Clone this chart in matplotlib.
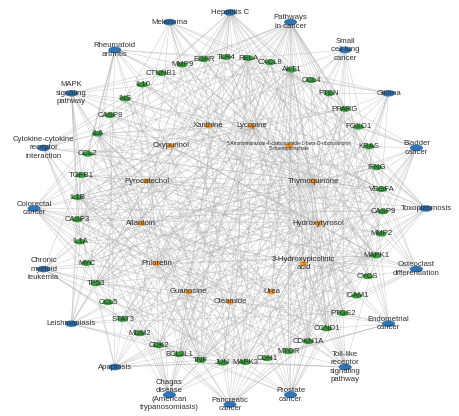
import matplotlib
matplotlib.use("Agg")
import matplotlib.pyplot as plt
import numpy as np
from matplotlib.collections import LineCollection
from matplotlib.patches import Ellipse

# Outer ring: enriched KEGG pathways / diseases, clockwise from the top
pathways = [
    "Hepatitis C", "Pathways\nin cancer", "Small\ncell lung\ncancer", "Glioma",
    "Bladder\ncancer", "Toxoplasmosis", "Osteoclast\ndifferentiation",
    "Endometrial\ncancer", "Toll-like\nreceptor\nsignaling\npathway",
    "Prostate\ncancer", "Pancreatic\ncancer",
    "Chagas\ndisease\n(American\ntrypanosomiasis)", "Apoptosis",
    "Leishmaniasis", "Chronic\nmyeloid\nleukemia", "Colorectal\ncancer",
    "Cytokine-cytokine\nreceptor\ninteraction", "MAPK\nsignaling\npathway",
    "Rheumatoid\narthritis", "Melanoma",
]

# Middle ring: target genes, clockwise
genes = [
    "TLR4", "RELA", "CXCL8", "AKT1", "CCL4", "PTEN", "PPARG", "FOXO1", "KRAS",
    "IFNG", "VEGFA", "CASP9", "MMP2", "MAPK1", "CYCS", "ICAM1", "PTGS2",
    "CCND1", "CDKN1A", "MTOR", "CDH1", "MAPK3", "JUN", "TNF", "BCL2L1",
    "CDK2", "MDM2", "STAT3", "CCL5", "TP53", "MYC", "IL1A", "CASP3", "IL1B",
    "TGFB1", "CCL2", "IL6", "CASP8", "INS", "IL10", "CTNNB1", "MMP9", "EGFR",
]

# Inner ring: compounds, clockwise
compounds = [
    "Lycopine",
    "5-Aminoimidazole-4-carboxamide-1-beta-D-ribofuranosyl\n5'-monophosphate",
    "Thymoquinone", "Hydroxytyrosol", "3-Hydroxypicolinic\nacid", "Urea",
    "Oleamide", "Guanosine", "Phloretin", "Allantoin", "Pyrocatechol",
    "Oxypurinol", "Xanthine",
]
AICAR = compounds[1]

pathway_genes = {
    "Hepatitis C": ["EGFR", "TLR4", "RELA", "CXCL8", "AKT1", "PPARG", "KRAS", "CASP9",
                    "MAPK1", "CYCS", "CCND1", "CDKN1A", "MAPK3", "TNF", "BCL2L1", "CDK2",
                    "STAT3", "CCL5", "TP53", "MYC", "CASP3", "CASP8", "CTNNB1"],
    "Pathways\nin cancer": ["EGFR", "RELA", "CXCL8", "AKT1", "PTEN", "PPARG", "FOXO1", "KRAS",
                            "IFNG", "VEGFA", "CASP9", "MMP2", "MAPK1", "CYCS", "PTGS2", "CCND1",
                            "CDKN1A", "MTOR", "CDH1", "MAPK3", "JUN", "BCL2L1", "CDK2", "MDM2",
                            "STAT3", "TP53", "MYC", "CASP3", "TGFB1", "IL6", "CASP8", "CTNNB1",
                            "MMP9"],
    "Small\ncell lung\ncancer": ["RELA", "AKT1", "PTEN", "CASP9", "CYCS", "CCND1", "CDK2",
                                 "BCL2L1", "PTGS2", "TP53", "MYC", "CDKN1A"],
    "Glioma": ["EGFR", "AKT1", "PTEN", "KRAS", "MAPK1", "MAPK3", "CCND1", "CDKN1A", "MTOR",
               "MDM2", "TP53", "PPARG", "CCL4"],
    "Bladder\ncancer": ["EGFR", "CXCL8", "KRAS", "VEGFA", "MMP2", "MAPK1", "CCND1", "CDKN1A",
                        "MAPK3", "CDH1", "MDM2", "TP53", "MYC", "MMP9", "FOXO1"],
    "Toxoplasmosis": ["TLR4", "RELA", "AKT1", "IFNG", "CASP9", "MAPK1", "CYCS", "MAPK3", "TNF",
                      "BCL2L1", "STAT3", "CASP3", "TGFB1", "IL10", "CASP8", "VEGFA", "KRAS"],
    "Osteoclast\ndifferentiation": ["RELA", "AKT1", "PPARG", "IFNG", "MAPK1", "MAPK3", "JUN",
                                    "TNF", "IL1A", "IL1B", "TGFB1", "MMP2", "CYCS"],
    "Endometrial\ncancer": ["AKT1", "PTEN", "KRAS", "MAPK1", "CCND1", "MTOR", "CDH1", "MAPK3",
                            "TP53", "MYC", "CTNNB1", "ICAM1", "PTGS2"],
    "Toll-like\nreceptor\nsignaling\npathway": ["TLR4", "RELA", "CXCL8", "AKT1", "CCL4", "MAPK1",
                                                "MAPK3", "JUN", "TNF", "CCL5", "IL1B", "IL6",
                                                "CASP8", "CCND1", "CDKN1A", "PTGS2"],
    "Prostate\ncancer": ["EGFR", "RELA", "AKT1", "PTEN", "FOXO1", "KRAS", "CASP9", "MAPK1",
                         "CCND1", "CDKN1A", "MTOR", "MAPK3", "CDK2", "MDM2", "TP53", "INS",
                         "CTNNB1", "CDH1"],
    "Pancreatic\ncancer": ["EGFR", "RELA", "AKT1", "KRAS", "VEGFA", "MAPK1", "CCND1", "CDKN1A",
                           "MTOR", "MAPK3", "BCL2L1", "STAT3", "TP53", "TGFB1", "JUN", "TNF"],
    "Chagas\ndisease\n(American\ntrypanosomiasis)": ["TLR4", "RELA", "CXCL8", "AKT1", "IFNG",
                                                      "MAPK1", "MAPK3", "JUN", "TNF", "CCL5",
                                                      "IL1B", "TGFB1", "CCL2", "IL6", "CASP8",
                                                      "IL10", "CDK2", "BCL2L1"],
    "Apoptosis": ["RELA", "AKT1", "CASP9", "CYCS", "MAPK1", "MAPK3", "JUN", "TNF", "BCL2L1",
                  "TP53", "CASP3", "CASP8", "CDK2", "MDM2", "STAT3"],
    "Leishmaniasis": ["TLR4", "RELA", "IFNG", "PTGS2", "MAPK1", "MAPK3", "JUN", "TNF",
                      "IL1A", "IL1B", "TGFB1", "IL10", "CCL5", "STAT3", "TP53", "MYC"],
    "Chronic\nmyeloid\nleukemia": ["RELA", "AKT1", "KRAS", "MAPK1", "CCND1", "CDKN1A", "MAPK3",
                                   "BCL2L1", "MDM2", "TP53", "MYC", "TGFB1", "STAT3", "IL1A"],
    "Colorectal\ncancer": ["AKT1", "KRAS", "CASP9", "MAPK1", "CYCS", "CCND1", "CDKN1A", "MTOR",
                           "MAPK3", "JUN", "BCL2L1", "TP53", "MYC", "CASP3", "TGFB1", "CTNNB1",
                           "IL1B", "CASP8"],
    "Cytokine-cytokine\nreceptor\ninteraction": ["CXCL8", "CCL4", "IFNG", "VEGFA", "TNF", "CCL5",
                                                 "IL1A", "IL1B", "TGFB1", "CCL2", "IL6", "IL10",
                                                 "EGFR", "CASP3"],
    "MAPK\nsignaling\npathway": ["EGFR", "RELA", "AKT1", "KRAS", "VEGFA", "MAPK1", "MAPK3", "JUN",
                                 "TNF", "CASP3", "TGFB1", "IL1A", "IL1B", "TP53", "MYC", "INS",
                                 "IL6", "CASP8"],
    "Rheumatoid\narthritis": ["TLR4", "CXCL8", "IFNG", "VEGFA", "JUN", "TNF", "CCL5", "IL1A",
                              "IL1B", "TGFB1", "CCL2", "IL6", "ICAM1", "IL10", "MMP9", "CTNNB1"],
    "Melanoma": ["EGFR", "AKT1", "PTEN", "KRAS", "MAPK1", "CCND1", "CDKN1A", "MAPK3", "CDH1",
                 "MDM2", "TP53", "MMP9", "MMP2", "INS"],
}

compound_targets = {
    "Thymoquinone": ["EGFR", "TLR4", "RELA", "CXCL8", "AKT1", "PTEN", "PPARG", "FOXO1", "KRAS",
                     "IFNG", "VEGFA", "CASP9", "MMP2", "MAPK1", "CYCS", "ICAM1", "PTGS2", "CCND1",
                     "CDKN1A", "MTOR", "CDH1", "MAPK3", "JUN", "TNF", "BCL2L1", "CDK2", "MDM2",
                     "STAT3", "CCL5", "TP53", "MYC", "IL1A", "CASP3", "IL1B", "TGFB1", "CCL2",
                     "IL6", "CASP8", "INS", "IL10", "CTNNB1", "MMP9", "CCL4"],
    "Hydroxytyrosol": ["EGFR", "RELA", "CXCL8", "AKT1", "PPARG", "FOXO1", "VEGFA", "CASP9",
                       "MMP2", "MAPK1", "ICAM1", "PTGS2", "CCND1", "CDKN1A", "MTOR", "MAPK3",
                       "JUN", "TNF", "BCL2L1", "STAT3", "TP53", "MYC", "CASP3", "IL1B", "IL6",
                       "CASP8", "IL10", "CTNNB1", "MMP9", "CCL2", "TLR4", "IL1A", "TGFB1"],
    "Lycopine": ["EGFR", "TLR4", "RELA", "CXCL8", "AKT1", "PPARG", "VEGFA", "MMP2", "MAPK1",
                 "ICAM1", "PTGS2", "CCND1", "CDKN1A", "MAPK3", "JUN", "TNF", "BCL2L1", "CDK2",
                 "STAT3", "TP53", "IL1B", "TGFB1", "IL6", "IL10", "MMP9", "CASP3", "CASP9",
                 "MYC", "IL1A", "CCL2"],
    "Phloretin": ["AKT1", "PTEN", "VEGFA", "CASP9", "MMP2", "MAPK1", "ICAM1", "PTGS2", "CCND1",
                  "MTOR", "MAPK3", "JUN", "TNF", "STAT3", "TP53", "CASP3", "IL1B", "IL6",
                  "CASP8", "MMP9", "CDK2", "RELA", "CXCL8", "KRAS", "FOXO1"],
    "Pyrocatechol": ["RELA", "AKT1", "CASP9", "MAPK1", "CYCS", "PTGS2", "MAPK3", "TNF",
                     "BCL2L1", "TP53", "CASP3", "IL1B", "IL6", "CCL2", "TGFB1", "MMP2",
                     "VEGFA", "CDKN1A"],
    AICAR: ["AKT1", "PTEN", "PPARG", "FOXO1", "MAPK1", "CDKN1A", "MTOR", "MAPK3", "TNF",
            "TP53", "MYC", "IL6", "INS", "CCND1", "VEGFA", "CASP3", "STAT3", "IL1B"],
    "Allantoin": ["IFNG", "TNF", "IL1B", "IL6", "TGFB1", "INS", "VEGFA", "CCL2", "IL10",
                  "PTGS2", "MMP9", "ICAM1"],
    "Oxypurinol": ["TNF", "IL6", "IL1B", "VEGFA", "INS", "PPARG", "ICAM1", "CCL2", "CASP3",
                   "MAPK1", "MAPK3"],
    "Xanthine": ["TNF", "IL6", "IL1B", "INS", "PPARG", "CASP3", "CCL2", "MMP9", "IL10",
                 "CXCL8", "ICAM1"],
    "3-Hydroxypicolinic\nacid": ["MAPK1", "MAPK3", "CASP3", "TNF", "IL6", "CYCS", "TP53",
                                 "AKT1", "CCND1"],
    "Urea": ["INS", "TNF", "IL6", "IL1B", "TGFB1", "PPARG", "CDKN1A", "MTOR", "VEGFA", "AKT1",
             "MAPK1"],
    "Guanosine": ["AKT1", "MAPK1", "MAPK3", "CASP3", "TNF", "IL6", "IL1B", "TP53", "BCL2L1",
                  "CDK2", "CASP9", "JUN"],
    "Oleamide": ["PPARG", "TNF", "IL6", "IL1B", "MAPK1", "MAPK3", "JUN", "PTGS2", "RELA",
                 "CCL2", "IL10", "CASP3", "AKT1", "STAT3"],
}

BLUE = "#2f74b5"
GREEN = "#379a3c"
ORANGE = "#f2962c"
EDGE = "#b0b0b0"
TEXT = "#2e2e2e"


def ring(names, cx, cy, r, start_deg):
    """Circular layout, clockwise on screen, y axis pointing down."""
    step = 360.0 / len(names)
    pos = {}
    for i, n in enumerate(names):
        a = np.radians(start_deg - i * step)
        pos[n] = (cx + r * np.cos(a), cy - r * np.sin(a))
    return pos


pos = {}
pos.update(ring(pathways, 230, 208.5, 196, 90))
pos.update(ring(genes, 230, 210, 153, 91.5))
pos.update(ring(compounds, 230, 212.7, 89.3, 76.15))

fig = plt.figure(figsize=(4.59, 4.16), dpi=100)
fig.patch.set_facecolor("white")
ax = fig.add_axes([0, 0, 1, 1])
ax.set_xlim(0, 459)
ax.set_ylim(416, 0)
ax.axis("off")

segs = []
for p, gs in pathway_genes.items():
    for g in gs:
        segs.append([pos[p], pos[g]])
for c, gs in compound_targets.items():
    for g in gs:
        segs.append([pos[c], pos[g]])
ax.add_collection(LineCollection(segs, colors=EDGE, linewidths=0.4, alpha=0.6, zorder=1))

font = ["Liberation Sans", "DejaVu Sans"]


def draw_nodes(names, color, w, h):
    for n in names:
        x, y = pos[n]
        ax.add_patch(Ellipse((x, y), w, h, facecolor=color, edgecolor="none", zorder=2))
        fs = 3.5 if n == AICAR else 5.6
        ls = 1.05 if n == AICAR else 1.3
        ax.text(x, y, n, ha="center", va="center", fontsize=fs, color=TEXT,
                family=font, linespacing=ls, zorder=3)


draw_nodes(pathways, BLUE, 13, 6.5)
draw_nodes(genes, GREEN, 11, 5.5)
draw_nodes(compounds, ORANGE, 8, 5)

fig.savefig("out.png", dpi=100, facecolor="white")
